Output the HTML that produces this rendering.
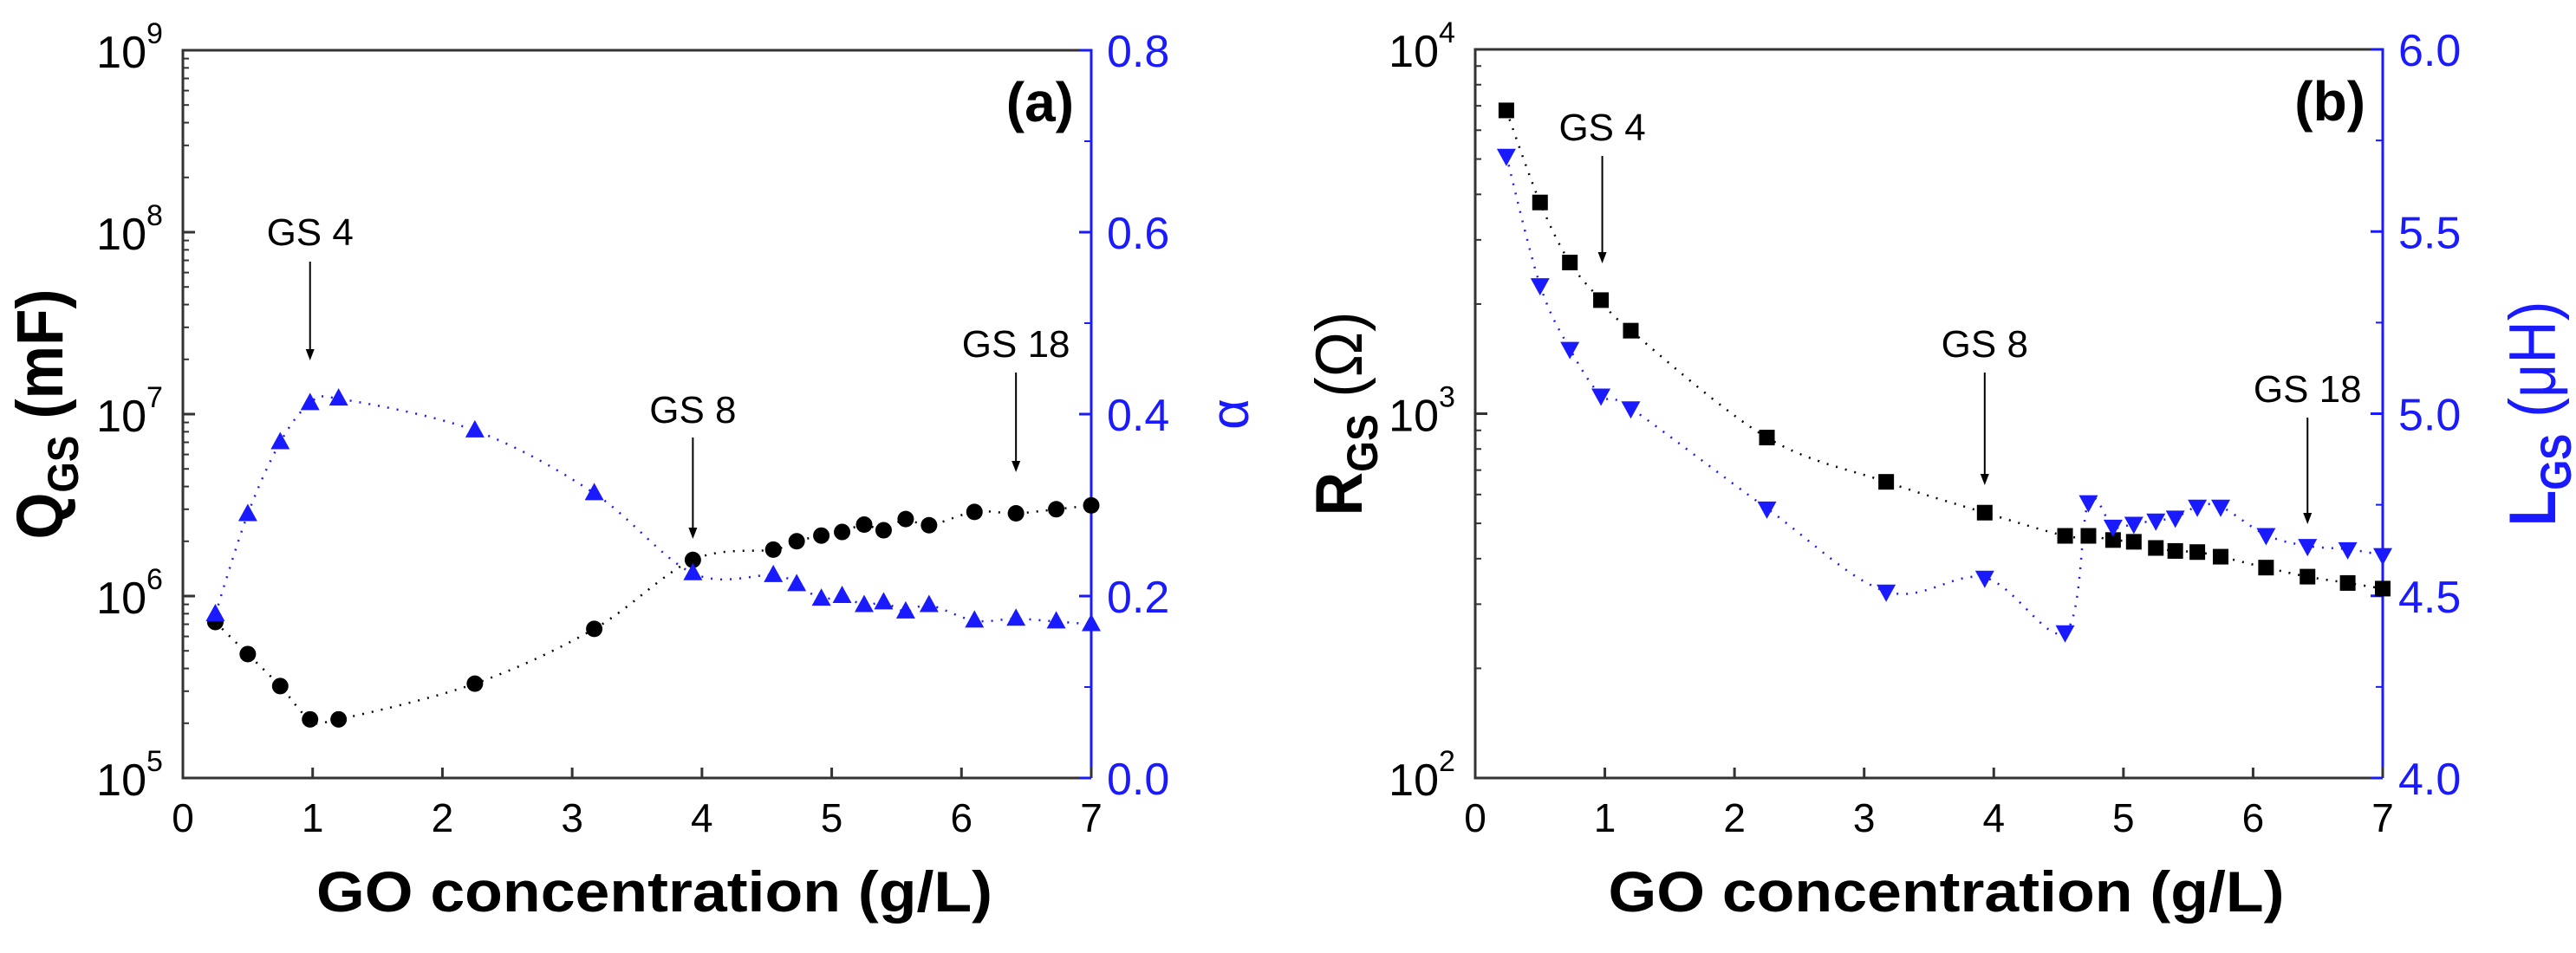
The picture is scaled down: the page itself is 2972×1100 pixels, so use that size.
<!DOCTYPE html>
<html><head><meta charset="utf-8"><style>
html,body{margin:0;padding:0;background:#fff;width:2972px;height:1100px;overflow:hidden}
svg{display:block;font-family:"Liberation Sans",Arial,sans-serif}
</style></head><body>
<svg id="fig" width="2972" height="1100" viewBox="0 0 2972 1100" xmlns="http://www.w3.org/2000/svg"></svg>
<script>
// ---- data ----
const xA = [0.25,0.5,0.75,0.98,1.2,2.25,3.17,3.93,4.55,4.73,4.92,5.08,5.25,5.4,5.57,5.75,6.1,6.42,6.73,7.0];
const qGS = [7.2e5,4.8e5,3.2e5,2.1e5,2.1e5,3.3e5,6.6e5,1.58e6,1.8e6,2.0e6,2.15e6,2.25e6,2.47e6,2.3e6,2.65e6,2.45e6,2.9e6,2.85e6,3.0e6,3.15e6];
const alphaVals = [0.18,0.29,0.369,0.412,0.417,0.382,0.313,0.225,0.223,0.213,0.197,0.2,0.19,0.193,0.183,0.19,0.173,0.175,0.172,0.169];
const xB = [0.24,0.5,0.73,0.97,1.2,2.25,3.17,3.93,4.55,4.73,4.92,5.08,5.25,5.4,5.57,5.75,6.1,6.42,6.73,7.0];
const rGS = [6800,3800,2600,2050,1690,860,650,535,462,462,450,445,428,420,417,405,378,357,343,331];
const lGS = [5.708,5.353,5.178,5.05,5.015,4.74,4.512,4.55,4.4,4.757,4.69,4.698,4.707,4.715,4.745,4.745,4.667,4.637,4.628,4.612];
const xTicks = [0,1,2,3,4,5,6,7];
const alphaTicks = ["0.0","0.2","0.4","0.6","0.8"];
const lTicks = ["4.0","4.5","5.0","5.5","6.0"];

const NS="http://www.w3.org/2000/svg";
const svg=document.getElementById('fig');
function el(tag,attrs,parent){const e=document.createElementNS(NS,tag);for(const k in attrs)e.setAttribute(k,attrs[k]);(parent||svg).appendChild(e);return e;}
function txt(s,attrs,parent){const e=el('text',attrs,parent);e.textContent=s;return e;}
function spline(pts){let d=`M${pts[0][0]},${pts[0][1]}`;for(let i=0;i<pts.length-1;i++){const p0=pts[Math.max(i-1,0)],p1=pts[i],p2=pts[i+1],p3=pts[Math.min(i+2,pts.length-1)];const c1=[p1[0]+(p2[0]-p0[0])/6,p1[1]+(p2[1]-p0[1])/6],c2=[p2[0]-(p3[0]-p1[0])/6,p2[1]-(p3[1]-p1[1])/6];d+=` C${c1[0]},${c1[1]} ${c2[0]},${c2[1]} ${p2[0]},${p2[1]}`;}return d;}

function panel(cfg){
  const g=el('g',{});
  
  
  const L=cfg.L,R=cfg.R,T=cfg.T,B=cfg.B;
  const sx=v=>L+(v/7)*(R-L);
  const sy=v=>B-(Math.log10(v)-cfg.lmin)/(cfg.lmax-cfg.lmin)*(B-T);
  const sy2=v=>B-(v-cfg.rmin)/(cfg.rmax-cfg.rmin)*(B-T);
  const fr=el('path',{d:`M${R},${T} L${L},${T} L${L},${B} L${R},${B}`,fill:'none',stroke:'#333',"stroke-width":3},g);
  
  const ra=el('line',{x1:R,y1:T-1.5,x2:R,y2:B,stroke:'#1a1aff',"stroke-width":3},g);
  
  xTicks.forEach(v=>{const x=sx(v);
    el('line',{x1:x,y1:B,x2:x,y2:B-12,stroke:'#333',"stroke-width":3},g);
    const t=txt(String(v),{x:x,y:B+62,"font-size":46,"text-anchor":"middle",fill:'#000'},g);
    });
  for(let d=cfg.lmin;d<=cfg.lmax;d++){
    const y=sy(Math.pow(10,d));
    el('line',{x1:L,y1:y,x2:L+14,y2:y,stroke:'#333',"stroke-width":3},g);
    const t=txt('10',{x:L-42,y:y+20,"font-size":52,"text-anchor":"end",fill:'#000'},g);
    
    const s=txt(String(d),{x:L-42,y:y-8,"font-size":34,"text-anchor":"start",fill:'#000'},g);
    
    if(d<cfg.lmax)for(let m=2;m<=9;m++){const ym=sy(m*Math.pow(10,d));el('line',{x1:L,y1:ym,x2:L+7,y2:ym,stroke:'#333',"stroke-width":2},g);}
  }
  const rt=cfg.rticks;
  rt.forEach((s,i)=>{const v=parseFloat(s);const y=sy2(v);
    el('line',{x1:R,y1:y,x2:R-14,y2:y,stroke:'#1a1aff',"stroke-width":3},g);
    const t=txt(s,{x:R+18,y:y+19,"font-size":52,fill:'#1a1aff'},g);
    
    if(i<rt.length-1){const ym=sy2((v+parseFloat(rt[i+1]))/2);el('line',{x1:R,y1:ym,x2:R-8,y2:ym,stroke:'#1a1aff',"stroke-width":2},g);}
  });
  const p1=cfg.x.map((v,i)=>[sx(v),sy(cfg.y1[i])]);
  const p2=cfg.x.map((v,i)=>[sx(v),sy2(cfg.y2[i])]);
  const l1=el('path',{d:spline(p1),fill:'none',stroke:'#000',"stroke-width":2.5,"stroke-dasharray":"2 9"},g);
  
  const l2=el('path',{d:spline(p2),fill:'none',stroke:'#1a1aff',"stroke-width":2.5,"stroke-dasharray":"2 9"},g);
  
  p1.forEach(p=>{let m;
    if(cfg.m1==='circle')m=el('circle',{cx:p[0],cy:p[1],r:9.5,fill:'#000'},g);
    else m=el('rect',{x:p[0]-9,y:p[1]-9,width:18,height:18,fill:'#000'},g);
    });
  p2.forEach(p=>{let m;
    if(cfg.m2==='up')m=el('polygon',{points:`${p[0]},${p[1]-12} ${p[0]-11},${p[1]+8} ${p[0]+11},${p[1]+8}`,fill:'#1a1aff'},g);
    else m=el('polygon',{points:`${p[0]},${p[1]+12} ${p[0]-11},${p[1]-8} ${p[0]+11},${p[1]-8}`,fill:'#1a1aff'},g);
    });
  cfg.ann.forEach(a=>{const x=sx(a.x);
    const t=txt(a.t,{x:x,y:a.ty,"font-size":44,"text-anchor":"middle",fill:'#000'},g);
    
    const ar=el('line',{x1:x,y1:a.a1,x2:x,y2:a.a2-10,stroke:'#000',"stroke-width":2},g);
    
    el('polygon',{points:`${x},${a.a2} ${x-5},${a.a2-13} ${x+5},${a.a2-13}`,fill:'#000'},g);});
  const pl=txt(cfg.label,{x:R-20,y:T+82,"font-size":64,"font-weight":"bold","text-anchor":"end",fill:'#000'},g);
  
  const xt=txt('GO concentration (g/L)',{x:(L+R)/2+20,y:1052,"font-size":66,"font-weight":"bold","text-anchor":"middle",textLength:780,lengthAdjust:"spacingAndGlyphs",fill:'#000'},g);
  
  const yc=(T+B)/2;
  const yt=el('text',{transform:`translate(${cfg.ytx},${yc}) rotate(-90)`,"text-anchor":"middle","font-size":76,"font-weight":"bold",textLength:cfg.ytlen,lengthAdjust:"spacingAndGlyphs",fill:'#000'},g);
  
  yt.innerHTML=cfg.ytitle;
  const yt2=el('text',{transform:`translate(${cfg.yt2x},${yc}) rotate(-90)`,"text-anchor":"middle","font-size":cfg.yt2size,"font-weight":"bold",fill:'#1a1aff'},g);
  if(cfg.yt2len){yt2.setAttribute('textLength',cfg.yt2len);yt2.setAttribute('lengthAdjust','spacingAndGlyphs');}
  
  yt2.innerHTML=cfg.yt2title;
}

panel({name:'panel-a',L:211,R:1259,T:58,B:898,lmin:5,lmax:9,rmin:0,rmax:0.8,rticks:alphaTicks,
  x:xA,y1:qGS,y2:alphaVals,m1:'circle',m2:'up',label:'(a)',
  ann:[{t:"GS 4",x:0.98,ty:283,a1:302,a2:416},{t:"GS 8",x:3.93,ty:488,a1:505,a2:622},{t:"GS 18",x:6.42,ty:412,a1:430,a2:545}],
  ytx:72,ytlen:289,ytitle:'Q<tspan font-size="50" dy="18">GS</tspan><tspan dy="-18"> (mF)</tspan>',
  yt2x:1440,yt2size:62,yt2title:'<tspan font-weight="normal">α</tspan>'});
panel({name:'panel-b',L:1702,R:2749,T:57,B:898,lmin:2,lmax:4,rmin:4,rmax:6,rticks:lTicks,
  x:xB,y1:rGS,y2:lGS,m1:'square',m2:'down',label:'(b)',
  ann:[{t:"GS 4",x:0.98,ty:162,a1:180,a2:304},{t:"GS 8",x:3.93,ty:412,a1:430,a2:560},{t:"GS 18",x:6.42,ty:464,a1:482,a2:605}],
  ytx:1571,ytlen:236,ytitle:'R<tspan font-size="50" dy="18">GS</tspan><tspan dy="-18" font-weight="normal"> (Ω)</tspan>',
  yt2x:2948,yt2size:76,yt2len:260,yt2title:'L<tspan font-size="50" dy="18">GS</tspan><tspan dy="-18" font-weight="normal"> (μH)</tspan>'});
</script>
</body></html>
